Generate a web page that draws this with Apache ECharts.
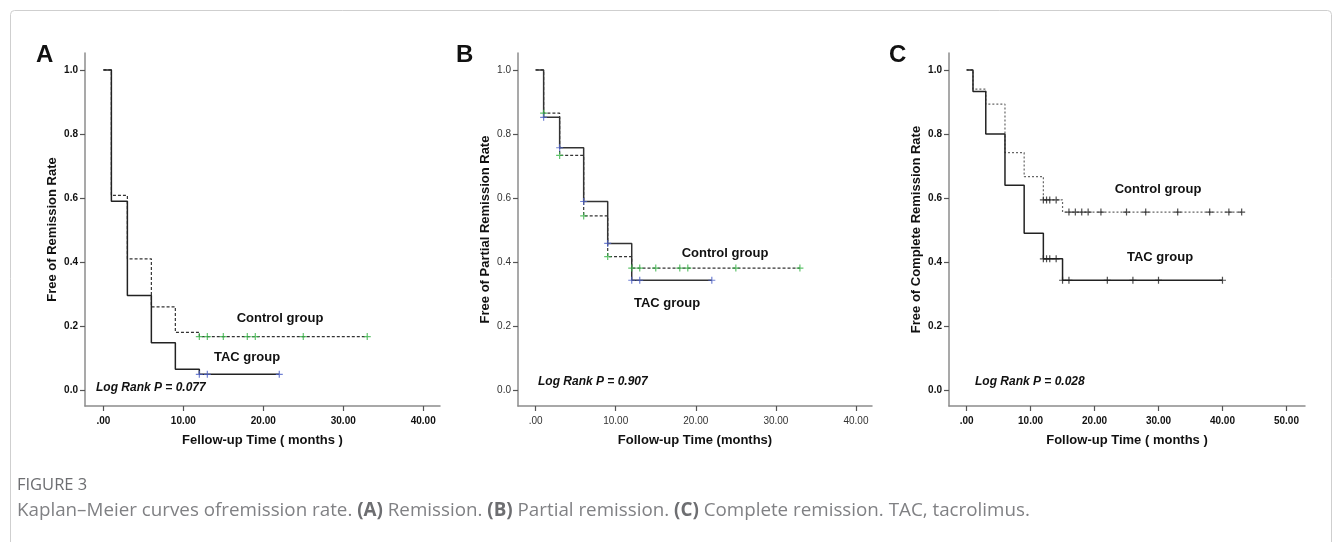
<!DOCTYPE html>
<html>
<head>
<meta charset="utf-8">
<title>Kaplan-Meier curves</title>
<script src="https://cdn.jsdelivr.net/npm/echarts@6/dist/echarts.min.js"></script>
<style>
  html, body { margin: 0; padding: 0; background: #fff; }
  #main { width: 1333px; height: 542px; }
</style>
</head>
<body>
<div id="main"></div>
<script type="text/javascript">
// ---- data (time in months, survival fraction) ----
// A: remission
var aTacTime = [0, 1, 3, 6, 9, 12, 22];
var aTacSurv = [1, 0.59, 0.295, 0.148, 0.065, 0.049, 0.049];
var aTacCens = [12, 13, 22];
var aCtlTime = [0, 1, 3, 6, 9, 12, 33];
var aCtlSurv = [1, 0.608, 0.41, 0.26, 0.18, 0.167, 0.167];
var aCtlCens = [12, 13, 15, 18, 19, 25, 33];
// B: partial remission
var bTacTime = [0, 1, 3, 6, 9, 12, 22];
var bTacSurv = [1, 0.852, 0.757, 0.589, 0.458, 0.343, 0.343];
var bTacCens = [1, 3, 6, 9, 12, 13, 22];
var bCtlTime = [0, 1, 3, 6, 9, 12, 33];
var bCtlSurv = [1, 0.865, 0.733, 0.544, 0.417, 0.381, 0.381];
var bCtlCens = [1, 3, 6, 9, 12, 13, 15, 18, 19, 25, 33];
// C: complete remission
var cTacTime = [0, 1, 3, 6, 9, 12, 15, 40];
var cTacSurv = [1, 0.933, 0.80, 0.64, 0.49, 0.41, 0.343, 0.343];
var cTacCens = [12, 12.5, 13, 14, 15, 16, 22, 26, 30, 40];
var cCtlTime = [0, 1, 3, 6, 9, 12, 15, 43];
var cCtlSurv = [1, 0.94, 0.893, 0.742, 0.667, 0.594, 0.556, 0.556];
var cCtlCens = [12, 12.5, 13, 14, 16, 17, 18, 19, 21, 25, 28, 33, 38, 41, 43];

// axis ticks
var yTicks = [0, 0.2, 0.4, 0.6, 0.8, 1.0];
var xTicks40 = [0, 10, 20, 30, 40];
var xTicks50 = [0, 10, 20, 30, 40, 50];

var FONT = 'Liberation Sans, Arial, sans-serif';
var PLUS = 'path://M0,5L10,5M5,0L5,10';

function pairs(t, s) {
    var out = [];
    for (var i = 0; i < t.length; i++) out.push([t[i], s[i]]);
    return out;
}
// censored marks sit on the curve: take the step value at that time
function censPoints(t, s, cens) {
    var out = [];
    for (var j = 0; j < cens.length; j++) {
        var v = s[0];
        for (var i = 0; i < t.length; i++) { if (t[i] <= cens[j]) v = s[i]; }
        out.push([cens[j], v]);
    }
    return out;
}

var grids = [
    { left: 85, top: 53, width: 355, height: 353 },
    { left: 518, top: 53, width: 354, height: 353 },
    { left: 949, top: 53, width: 356, height: 353 }
];
var xRanges = [[-2.3, 42.1], [-2.2, 42], [-2.75, 52.9]];
var xTickSets = [xTicks40, xTicks40, xTicks50];
var yNames = ['Free of Remission Rate', 'Free of Partial Remission Rate', 'Free of Complete Remission Rate'];
var xNames = ['Fellow-up Time ( months )', 'Follow-up Time (months)', 'Follow-up Time ( months )'];
var boldTicks = [true, false, true];

var xAxes = [], yAxes = [];
for (var g = 0; g < 3; g++) {
    var tickFont = boldTicks[g]
        ? { fontSize: 10, fontWeight: 'bold', color: '#111', fontFamily: FONT }
        : { fontSize: 10, fontWeight: 'normal', color: '#333', fontFamily: FONT };
    xAxes.push({
        type: 'value', gridIndex: g, min: xRanges[g][0], max: xRanges[g][1],
        axisLine: { onZero: false, lineStyle: { color: '#8c8c8c', width: 1.5 } },
        axisTick: { show: true, length: 5, customValues: xTickSets[g], lineStyle: { color: '#555', width: 1.2 } },
        axisLabel: Object.assign({ customValues: xTickSets[g], margin: 10,
            formatter: function (v) { return v === 0 ? '.00' : v.toFixed(2); } }, tickFont),
        splitLine: { show: false },
        name: xNames[g], nameLocation: 'middle', nameGap: 28,
        nameTextStyle: { fontSize: 13, fontWeight: 'bold', color: '#111', fontFamily: FONT }
    });
    yAxes.push({
        type: 'value', gridIndex: g, min: -0.05, max: 1.053,
        axisLine: { show: true, onZero: false, lineStyle: { color: '#8c8c8c', width: 1.5 } },
        axisTick: { show: true, length: 5, customValues: yTicks, lineStyle: { color: '#555', width: 1.2 } },
        axisLabel: Object.assign({ customValues: yTicks, margin: 7,
            formatter: function (v) { return v.toFixed(1); } }, tickFont),
        splitLine: { show: false },
        name: yNames[g], nameLocation: 'middle', nameGap: 26,
        nameTextStyle: { fontSize: 13, fontWeight: 'bold', color: '#111', fontFamily: FONT }
    });
}

function curve(g, t, s, dashed, color) {
    return {
        type: 'line', xAxisIndex: g, yAxisIndex: g, step: 'end', silent: true,
        showSymbol: false, data: pairs(t, s), z: 2,
        lineStyle: { color: color, width: dashed ? 1.2 : 1.5, type: dashed ? dashed : 'solid' }
    };
}
function marks(g, t, s, cens, color) {
    return {
        type: 'scatter', xAxisIndex: g, yAxisIndex: g, silent: true, z: 3,
        symbol: PLUS, symbolSize: 7, data: censPoints(t, s, cens),
        itemStyle: { color: 'rgba(0,0,0,0)', borderColor: color, borderWidth: 1.2 }
    };
}

var BLUE = '#4f63c9', GREEN = '#3bb54a';
var series = [
    curve(0, aCtlTime, aCtlSurv, [3, 2], '#333'),
    curve(0, aTacTime, aTacSurv, null, '#222'),
    marks(0, aCtlTime, aCtlSurv, aCtlCens, GREEN),
    marks(0, aTacTime, aTacSurv, aTacCens, BLUE),
    curve(1, bCtlTime, bCtlSurv, [3, 2], '#333'),
    curve(1, bTacTime, bTacSurv, null, '#333'),
    marks(1, bCtlTime, bCtlSurv, bCtlCens, GREEN),
    marks(1, bTacTime, bTacSurv, bTacCens, BLUE),
    curve(2, cCtlTime, cCtlSurv, [2, 2], '#666'),
    curve(2, cTacTime, cTacSurv, null, '#222'),
    marks(2, cCtlTime, cCtlSurv, cCtlCens, '#222'),
    marks(2, cTacTime, cTacSurv, cTacCens, '#222')
];

function txt(x, y, s, size, opts) {
    return {
        type: 'text', x: x, y: y, silent: true,
        style: Object.assign({ text: s, fontSize: size, fontWeight: 'bold', fill: '#111',
            fontFamily: FONT, align: 'center', verticalAlign: 'middle' }, opts || {})
    };
}

var graphics = [
    { type: 'rect', shape: { x: 10.5, y: 10.5, width: 1321, height: 620, r: 4 },
      style: { fill: 'none', stroke: '#cfcfcf', lineWidth: 1 }, silent: true },
    txt(36, 55, 'A', 24, { align: 'left' }),
    txt(456, 55, 'B', 24, { align: 'left' }),
    txt(889, 55, 'C', 24, { align: 'left' }),
    txt(280, 318, 'Control group', 13),
    txt(247, 357, 'TAC group', 13),
    txt(96, 388, 'Log Rank P = 0.077', 12, { align: 'left', fontStyle: 'italic' }),
    txt(725, 253, 'Control group', 13),
    txt(667, 303, 'TAC group', 13),
    txt(538, 382, 'Log Rank P = 0.907', 12, { align: 'left', fontStyle: 'italic' }),
    txt(1158, 189, 'Control group', 13),
    txt(1160, 257, 'TAC group', 13),
    txt(975, 382, 'Log Rank P = 0.028', 12, { align: 'left', fontStyle: 'italic' }),
    txt(17, 485, 'FIGURE 3', 16.5, { align: 'left', fontWeight: 'normal', fill: '#6d6e71', fontFamily: 'Open Sans, sans-serif' }),
    {
        type: 'text', x: 17, y: 511, silent: true,
        style: {
            text: 'Kaplan\u2013Meier curves ofremission rate. {b|(A)} Remission. {b|(B)} Partial remission. {b|(C)} Complete remission. TAC, tacrolimus.',
            fontSize: 18.8, fill: '#808184', fontFamily: 'Open Sans, sans-serif',
            align: 'left', verticalAlign: 'middle',
            rich: { b: { fontSize: 18.8, fontWeight: 'bold', fill: '#6d6e71', fontFamily: 'Open Sans, sans-serif' } }
        }
    }
];

var myChart = echarts.init(document.getElementById('main'), null, { renderer: 'canvas' });
var option = {
    backgroundColor: '#fff',
    animation: false,
    grid: grids,
    xAxis: xAxes,
    yAxis: yAxes,
    series: series,
    graphic: graphics
};
myChart.setOption(option);
</script>
</body>
</html>
